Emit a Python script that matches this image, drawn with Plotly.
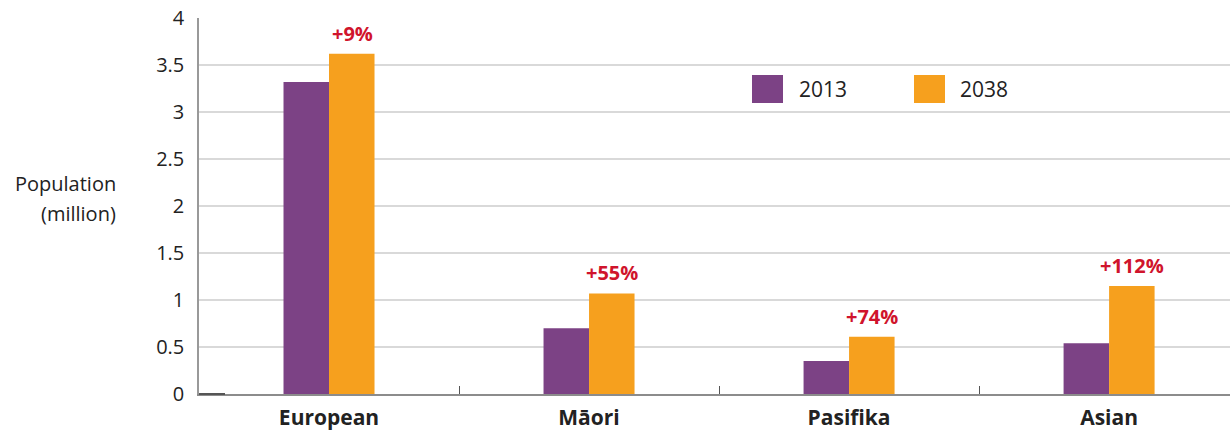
import plotly.graph_objects as go

categories = ["European", "Māori", "Pasifika", "Asian"]
pop_2013 = [3.32, 0.70, 0.35, 0.54]
pop_2038 = [3.62, 1.07, 0.61, 1.15]
growth_labels = ["+9%", "+55%", "+74%", "+112%"]
series_names = ["2013", "2038"]
y_ticks = [0, 0.5, 1, 1.5, 2, 2.5, 3, 3.5, 4]
y_tick_text = ["0", "0.5", "1", "1.5", "2", "2.5", "3", "3.5", "4"]
y_title_lines = ["Population", "(million)"]

PURPLE = "#7c4285"
ORANGE = "#f6a01e"
RED = "#d0142c"
FONT = "Open Sans"
TXT = "#222222"

fig = go.Figure()
fig.add_trace(go.Bar(x=categories, y=pop_2013, name=series_names[0],
                     marker=dict(color=PURPLE, line=dict(width=0)), showlegend=False))
fig.add_trace(go.Bar(x=categories, y=pop_2038, name=series_names[1],
                     marker=dict(color=ORANGE, line=dict(width=0)), showlegend=False))

for i, (c, v, t) in enumerate(zip(categories, pop_2038, growth_labels)):
    fig.add_annotation(x=i, y=v, xref="x", yref="y", text=f"<b>{t}</b>",
                       showarrow=False, xshift=23, yanchor="bottom", yshift=5,
                       font=dict(family=FONT, size=20, color=RED))

# y-axis title (two lines, right-aligned)
for line, ypix in zip(y_title_lines, [183, 214]):
    fig.add_annotation(x=-81/1031, y=(394-ypix)/376, xref="paper", yref="paper",
                       text=line, showarrow=False, xanchor="right", yanchor="middle",
                       font=dict(family=FONT, size=20, color=TXT))

# manual legend
leg = [(752, PURPLE, series_names[0], 797), (914, ORANGE, series_names[1], 958)]
for x0, col, name, tx in leg:
    fig.add_shape(type="rect", xref="paper", yref="paper",
                  x0=(x0-199)/1031, x1=(x0+31-199)/1031,
                  y0=(394-103)/376, y1=(394-75)/376,
                  fillcolor=col, line=dict(width=0), layer="above")
    fig.add_annotation(x=(tx-199)/1031, y=(394-89)/376, xref="paper", yref="paper",
                       text=name, showarrow=False, xanchor="left", yanchor="middle",
                       font=dict(family=FONT, size=21, color=TXT))

# short dark segment at origin
fig.add_shape(type="line", xref="paper", yref="paper", x0=0, x1=26/1031, y0=0, y1=0,
              line=dict(color="#555555", width=2), layer="above")

fig.update_layout(
    width=1230, height=432,
    margin=dict(l=199, r=0, t=18, b=38),
    paper_bgcolor="white", plot_bgcolor="white",
    barmode="group", bargap=0.65, bargroupgap=0,
    font=dict(family=FONT, color=TXT),
)
fig.update_xaxes(type="category", range=[-0.5, 3.465], automargin=False,
                 showline=True, linecolor="#8c8c8c", linewidth=2,
                 ticks="inside", tickson="boundaries", ticklen=8, tickwidth=1,
                 tickcolor="#555555", showgrid=False, ticklabelstandoff=4,
                 tickfont=dict(family=FONT, size=21, color=TXT, weight="bold"))
fig.update_yaxes(range=[0, 4], tickvals=y_ticks, ticktext=y_tick_text, automargin=False,
                 showgrid=True, gridcolor="#d9d9d9", gridwidth=1.5,
                 showline=True, linecolor="#999999", linewidth=1.5,
                 zeroline=False, ticks="", ticklabelstandoff=9,
                 tickfont=dict(family=FONT, size=20, color=TXT))

fig.write_html("out.html", config={"displayModeBar": False},
               post_script="document.body.style.margin='0';document.body.style.overflow='hidden';")
